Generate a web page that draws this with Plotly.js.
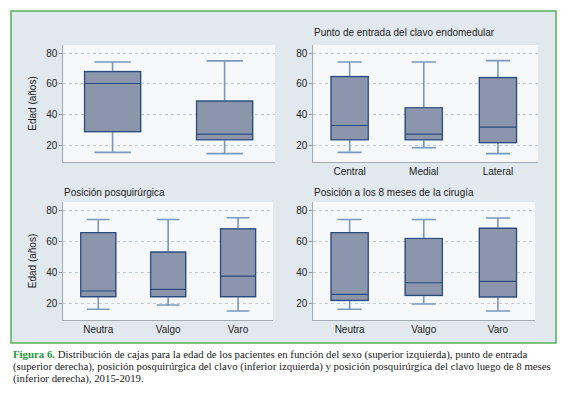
<!DOCTYPE html>
<html>
<head>
<meta charset="utf-8">
<script src="https://cdn.plot.ly/plotly-3.0.1.min.js"></script>
<style>html,body{margin:0;padding:0;background:#fff;}#chart{width:568px;height:398px;}</style>
</head>
<body>
<div id="chart"></div>
<script>
// ---- data ----
const yTickVals = [20, 40, 60, 80];
const yTitle = "Edad (años)";

const sexCats = ["Femenino", "Masculino"];
const sexLo  = [15.7, 14.9];
const sexQ1  = [29.2, 23.9];
const sexMed = [60.3, 27.5];
const sexQ3  = [68.0, 48.9];
const sexHi  = [74.2, 74.9];

const entryTitle = "Punto de entrada del clavo endomedular";
const entryCats = ["Central", "Medial", "Lateral"];
const entryLo  = [15.7, 18.7, 14.9];
const entryQ1  = [23.9, 23.9, 22.1];
const entryMed = [33.1, 27.5, 32.0];
const entryQ3  = [64.8, 44.6, 64.1];
const entryHi  = [74.2, 74.2, 75.1];

const postTitle = "Posición posquirúrgica";
const postCats = ["Neutra", "Valgo", "Varo"];
const postLo  = [16.4, 19.1, 15.3];
const postQ1  = [24.5, 24.5, 24.5];
const postMed = [28.1, 29.2, 37.7];
const postQ3  = [65.5, 53.1, 68.0];
const postHi  = [74.0, 74.0, 75.1];

const m8Title = "Posición a los 8 meses de la cirugía";
const m8Cats = ["Neutra", "Valgo", "Varo"];
const m8Lo  = [16.4, 19.8, 15.3];
const m8Q1  = [22.1, 25.3, 24.3];
const m8Med = [26.0, 33.4, 34.3];
const m8Q3  = [65.5, 61.8, 68.3];
const m8Hi  = [74.0, 74.0, 74.9];

const captionLines = [
  "<span style='color:#1f9a3a'><b>Figura 6.</b></span> Distribución de cajas para la edad de los pacientes en función del sexo (superior izquierda), punto de entrada",
  "(superior derecha), posición posquirúrgica del clavo (inferior izquierda) y posición posquirúrgica del clavo luego de 8 meses",
  "(inferior derecha), 2015-2019."
];

// ---- styling ----
const W = 568, H = 398;
const px = v => v / W;
const py = v => 1 - v / H;
const boxFill = "#8b96ad";
const boxLine = "#2c4a7c";
const whiskLine = "#7899bd";
const sansFont = "Liberation Sans, Arial, sans-serif";

function boxPair(xa, ya, cats, lo, q1, med, q3, hi) {
  const base = {type: "box", orientation: "v", x: cats, q1: q1, median: med, q3: q3,
    xaxis: xa, yaxis: ya, width: 0.5, boxpoints: false, hoverinfo: "skip", showlegend: false,
    fillcolor: boxFill};
  const whisk = Object.assign({}, base, {lowerfence: lo, upperfence: hi, whiskerwidth: 0.65,
    line: {color: whiskLine, width: 1.6}});
  const body = Object.assign({}, base, {lowerfence: q1, upperfence: q3, whiskerwidth: 0,
    line: {color: boxLine, width: 1.2}});
  return [whisk, body];
}

const data = [].concat(
  boxPair("x", "y", sexCats, sexLo, sexQ1, sexMed, sexQ3, sexHi),
  boxPair("x2", "y2", entryCats, entryLo, entryQ1, entryMed, entryQ3, entryHi),
  boxPair("x3", "y3", postCats, postLo, postQ1, postMed, postQ3, postHi),
  boxPair("x4", "y4", m8Cats, m8Lo, m8Q1, m8Med, m8Q3, m8Hi)
);

function xAxis(domain, anchor, cats, range, showLabels) {
  return {domain: domain, anchor: anchor, type: "category", categoryorder: "array", categoryarray: cats, range: range,
    showgrid: false, zeroline: false, showline: true, linecolor: "#a3acb5", linewidth: 1,
    ticks: "", showticklabels: showLabels, tickfont: {family: sansFont, size: 10, color: "#222"},
    fixedrange: true};
}
function yAxis(domain, anchor, withTitle) {
  const a = {domain: domain, anchor: anchor, range: [9.5, 85.2], tickvals: yTickVals,
    showgrid: true, gridcolor: "#c3ccd6", griddash: "dot", gridwidth: 1,
    zeroline: false, showline: true, linecolor: "#a3acb5", linewidth: 1,
    ticks: "outside", ticklen: 3, tickcolor: "#8a949e",
    tickfont: {family: sansFont, size: 10, color: "#222"}, fixedrange: true};
  if (withTitle) a.title = {text: yTitle, font: {family: sansFont, size: 10, color: "#222"}, standoff: 7};
  return a;
}

const dTop = [py(162), py(45)];
const dBot = [py(320), py(202)];

const layout = {
  width: W, height: H,
  margin: {l: 0, r: 0, t: 0, b: 0},
  paper_bgcolor: "#ffffff",
  plot_bgcolor: "#f6f8fa",
  boxmode: "overlay",
  showlegend: false,
  xaxis:  xAxis([px(63.3), px(275)], "y", sexCats, [-0.44, 1.45], false),
  yaxis:  yAxis(dTop, "x", true),
  xaxis2: xAxis([px(313.3), px(538)], "y2", entryCats, [-0.49, 2.54], true),
  yaxis2: yAxis(dTop, "x2", false),
  xaxis3: xAxis([px(63.3), px(273)], "y3", postCats, [-0.5, 2.5], true),
  yaxis3: yAxis(dBot, "x3", true),
  xaxis4: xAxis([px(313.3), px(535)], "y4", m8Cats, [-0.49, 2.5], true),
  yaxis4: yAxis(dBot, "x4", false),
  shapes: [
    {type: "rect", xref: "paper", yref: "paper", layer: "below",
     x0: px(11), x1: px(556), y0: py(343), y1: py(11),
     fillcolor: "#e1e9ee", line: {color: "#55b055", width: 1.5}},
    {type: "rect", xref: "x domain", yref: "y domain", layer: "below", x0: 0, x1: 1, y0: 0, y1: 1, fillcolor: "#f6f8fa", line: {width: 0}},
    {type: "rect", xref: "x2 domain", yref: "y2 domain", layer: "below", x0: 0, x1: 1, y0: 0, y1: 1, fillcolor: "#f6f8fa", line: {width: 0}},
    {type: "rect", xref: "x3 domain", yref: "y3 domain", layer: "below", x0: 0, x1: 1, y0: 0, y1: 1, fillcolor: "#f6f8fa", line: {width: 0}},
    {type: "rect", xref: "x4 domain", yref: "y4 domain", layer: "below", x0: 0, x1: 1, y0: 0, y1: 1, fillcolor: "#f6f8fa", line: {width: 0}}
  ],
  annotations: [
    {xref: "paper", yref: "paper", x: px(312), y: py(32), xanchor: "left", yanchor: "middle",
     text: entryTitle, showarrow: false, font: {family: sansFont, size: 10, color: "#222"}},
    {xref: "paper", yref: "paper", x: px(62), y: py(192.5), xanchor: "left", yanchor: "middle",
     text: postTitle, showarrow: false, font: {family: sansFont, size: 10, color: "#222"}},
    {xref: "paper", yref: "paper", x: px(312), y: py(192.5), xanchor: "left", yanchor: "middle",
     text: m8Title, showarrow: false, font: {family: sansFont, size: 10, color: "#222"}}
  ].concat(captionLines.map((t, i) => ({
     xref: "paper", yref: "paper", x: px(11), y: py(354 + i * 12.2), xanchor: "left", yanchor: "middle",
     text: t, showarrow: false, align: "left",
     font: {family: "Liberation Serif, Times New Roman, serif", size: 10.8, color: "#1a1a1a"}})))
};

Plotly.newPlot("chart", data, layout, {displayModeBar: false, staticPlot: true});
</script>
</body>
</html>
